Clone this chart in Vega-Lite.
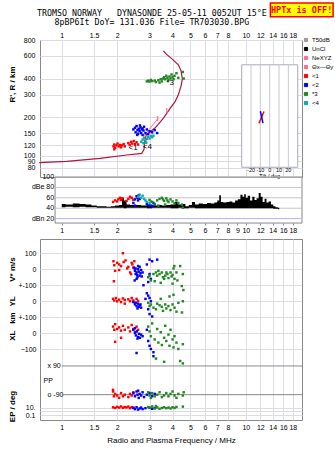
{
  "$schema": "https://vega.github.io/schema/vega-lite/v6.json",
  "background": "white",
  "padding": {"left": 7, "top": 1, "right": 0, "bottom": 0},
  "config": {
    "font": "Liberation Sans",
    "view": {"stroke": "#888888"},
    "axis": {"labelFont": "Liberation Sans", "labelFontSize": 7, "labelColor": "#000", "gridColor": "#dcdce4", "domain": false, "ticks": false, "labelOverlap": false, "titleFont": "Liberation Sans", "titleFontSize": 8, "titleFontWeight": "bold", "titleColor": "#000"},
    "title": {"font": "DejaVu Sans Mono", "fontSize": 8.3, "fontWeight": "normal", "color": "#000", "subtitleFont": "DejaVu Sans Mono", "subtitleFontSize": 8.3, "subtitleColor": "#000"}
  },
  "title": {"text": "TROMSO NORWAY\u00a0\u00a0\u00a0DYNASONDE 25-05-11 0052UT 15°E", "subtitle": "8pBP6It DoY= 131.036 File= TR703030.BPG", "anchor": "middle", "offset": -24.5, "dx": -19, "subtitlePadding": 1},
  "datasets": {
    "curve": [{"i":0,"f":0.755,"h":88},{"i":1,"f":1.065,"h":90},{"i":2,"f":1.616,"h":95},{"i":3,"f":2.256,"h":101},{"i":4,"f":2.72,"h":104},{"i":5,"f":2.80,"h":112},{"i":6,"f":2.82,"h":130},{"i":7,"f":2.88,"h":145},{"i":8,"f":3.21,"h":164},{"i":9,"f":3.57,"h":196},{"i":10,"f":3.88,"h":234},{"i":11,"f":4.13,"h":264},{"i":12,"f":4.30,"h":298},{"i":13,"f":4.45,"h":350},{"i":14,"f":4.52,"h":395},{"i":15,"f":4.45,"h":460},{"i":16,"f":4.30,"h":512},{"i":17,"f":4.0,"h":565},{"i":18,"f":3.7,"h":620},{"i":19,"f":3.57,"h":658}],
    "pink": [{"f":2.78,"h":141},{"f":3.35,"h":196}],
    "pinkI": [{"f":3.32,"h":192},{"f":3.72,"h":221}],
    "topLab": [{"f":2.44,"h":114,"t":"<1"},{"f":2.92,"h":116,"t":"<4"},{"f":3.88,"h":372,"t":"*3"}],
    "topPts": [
      {"f":1.91,"h":118,"m":"<1"},{"f":1.93,"h":122,"m":"<1"},{"f":1.95,"h":115,"m":"<1"},{"f":1.98,"h":120,"m":"<1"},{"f":2.01,"h":124,"m":"<1"},{"f":2.04,"h":118,"m":"<1"},{"f":2.07,"h":121,"m":"<1"},{"f":2.1,"h":116,"m":"<1"},{"f":2.13,"h":120,"m":"<1"},{"f":2.17,"h":123,"m":"<1"},{"f":2.2,"h":118,"m":"<1"},{"f":2.3,"h":125,"m":"<1"},{"f":2.34,"h":121,"m":"<1"},{"f":2.38,"h":128,"m":"<1"},{"f":2.42,"h":124,"m":"<1"},{"f":2.46,"h":130,"m":"<1"},{"f":2.5,"h":123,"m":"<1"},{"f":2.55,"h":127,"m":"<1"},{"f":2.6,"h":122,"m":"<1"},{"f":1.93,"h":112,"m":"<1"},
      {"f":2.45,"h":160,"m":"<2"},{"f":2.5,"h":165,"m":"<2"},{"f":2.52,"h":152,"m":"<2"},{"f":2.55,"h":170,"m":"<2"},{"f":2.58,"h":158,"m":"<2"},{"f":2.6,"h":148,"m":"<2"},{"f":2.62,"h":162,"m":"<2"},{"f":2.65,"h":155,"m":"<2"},{"f":2.68,"h":166,"m":"<2"},{"f":2.7,"h":150,"m":"<2"},{"f":2.72,"h":160,"m":"<2"},{"f":2.75,"h":145,"m":"<2"},{"f":2.78,"h":157,"m":"<2"},{"f":2.8,"h":168,"m":"<2"},{"f":2.85,"h":150,"m":"<2"},{"f":2.9,"h":160,"m":"<2"},{"f":2.95,"h":147,"m":"<2"},{"f":3.0,"h":155,"m":"<2"},{"f":3.1,"h":152,"m":"<2"},{"f":3.2,"h":158,"m":"<2"},{"f":3.3,"h":150,"m":"<2"},{"f":2.57,"h":145,"m":"<2"},{"f":2.66,"h":172,"m":"<2"},{"f":2.75,"h":163,"m":"<2"},
      {"f":2.7,"h":128,"m":"<4"},{"f":2.75,"h":133,"m":"<4"},{"f":2.8,"h":138,"m":"<4"},{"f":2.85,"h":130,"m":"<4"},{"f":2.9,"h":135,"m":"<4"},{"f":2.95,"h":140,"m":"<4"},{"f":3.0,"h":136,"m":"<4"},{"f":3.05,"h":142,"m":"<4"},{"f":3.1,"h":139,"m":"<4"},{"f":2.78,"h":125,"m":"<4"},{"f":2.88,"h":126,"m":"<4"},{"f":3.15,"h":143,"m":"<4"},
      {"f":2.9,"h":380,"m":"*3"},{"f":2.95,"h":385,"m":"*3"},{"f":3.0,"h":378,"m":"*3"},{"f":3.05,"h":390,"m":"*3"},{"f":3.1,"h":382,"m":"*3"},{"f":3.2,"h":385,"m":"*3"},{"f":3.35,"h":388,"m":"*3"},{"f":3.45,"h":395,"m":"*3"},{"f":3.5,"h":380,"m":"*3"},{"f":3.55,"h":400,"m":"*3"},{"f":3.6,"h":410,"m":"*3"},{"f":3.65,"h":395,"m":"*3"},{"f":3.7,"h":420,"m":"*3"},{"f":3.75,"h":405,"m":"*3"},{"f":3.8,"h":390,"m":"*3"},{"f":3.85,"h":415,"m":"*3"},{"f":3.9,"h":400,"m":"*3"},{"f":3.95,"h":430,"m":"*3"},{"f":4.0,"h":410,"m":"*3"},{"f":4.05,"h":395,"m":"*3"},{"f":4.1,"h":420,"m":"*3"},{"f":4.2,"h":440,"m":"*3"},{"f":4.3,"h":405,"m":"*3"},{"f":4.55,"h":450,"m":"*3"},{"f":4.6,"h":400,"m":"*3"},{"f":3.25,"h":375,"m":"*3"},{"f":3.4,"h":372,"m":"*3"}
    ],
    "tiltGrid": [{"t":-20},{"t":-10},{"t":0},{"t":10},{"t":20}],
    "tiltLab": [{"t":-20,"s":"-20"},{"t":-10,"s":"-10"},{"t":0,"s":"0"},{"t":10,"s":"10"},{"t":20,"s":"20"}],
    "tiltX": [{"m":"<1","t":-11.5,"h":179,"i":0},{"m":"<1","t":-6.1,"h":221,"i":1},{"m":"<2","t":-10.0,"h":222,"i":0},{"m":"<2","t":-7.2,"h":179,"i":1}],
    "dbLines": [{"d":100},{"d":80},{"d":60},{"d":40}],
    "dbLab": [{"d":100,"s":"100"},{"d":80,"s":"dBe 80"},{"d":60,"s":"60"},{"d":40,"s":"40"},{"d":20,"s":"dBn 20"}],
    "noise": [
      {"f":1.0,"lo":42,"hi":48},{"f":1.1,"lo":43,"hi":47},{"f":1.2,"lo":42,"hi":49},{"f":1.3,"lo":43,"hi":48},{"f":1.4,"lo":42,"hi":47},{"f":1.5,"lo":42,"hi":45},{"f":1.6,"lo":41,"hi":44},{"f":1.7,"lo":41,"hi":44},{"f":1.8,"lo":41,"hi":43},{"f":1.9,"lo":41,"hi":44},{"f":2.0,"lo":41,"hi":45},{"f":2.1,"lo":41,"hi":46},{"f":2.15,"lo":41,"hi":60},{"f":2.2,"lo":40,"hi":55},{"f":2.3,"lo":41,"hi":47},{"f":2.4,"lo":41,"hi":46},{"f":2.6,"lo":41,"hi":46},{"f":2.8,"lo":41,"hi":45},{"f":3.0,"lo":40,"hi":47},{"f":3.2,"lo":41,"hi":45},{"f":3.4,"lo":41,"hi":46},{"f":3.6,"lo":41,"hi":45},{"f":3.8,"lo":41,"hi":46},{"f":4.0,"lo":40,"hi":47},{"f":4.2,"lo":40,"hi":52},{"f":4.4,"lo":41,"hi":47},{"f":4.6,"lo":40,"hi":48},{"f":4.8,"lo":40,"hi":44},{"f":5.0,"lo":41,"hi":46},{"f":5.2,"lo":41,"hi":52},{"f":5.4,"lo":40,"hi":47},{"f":5.7,"lo":40,"hi":49},{"f":6.0,"lo":40,"hi":48},{"f":6.3,"lo":40,"hi":50},{"f":6.6,"lo":40,"hi":49},{"f":6.9,"lo":40,"hi":51},{"f":7.1,"lo":40,"hi":55},{"f":7.25,"lo":40,"hi":65},{"f":7.4,"lo":40,"hi":52},{"f":7.7,"lo":40,"hi":51},{"f":8.0,"lo":40,"hi":52},{"f":8.3,"lo":40,"hi":53},{"f":8.6,"lo":40,"hi":51},{"f":8.9,"lo":40,"hi":55},{"f":9.2,"lo":40,"hi":57},{"f":9.5,"lo":40,"hi":66},{"f":9.7,"lo":40,"hi":62},{"f":9.9,"lo":40,"hi":67},{"f":10.1,"lo":40,"hi":60},{"f":10.4,"lo":40,"hi":64},{"f":10.7,"lo":40,"hi":55},{"f":11.0,"lo":40,"hi":62},{"f":11.3,"lo":40,"hi":56},{"f":11.6,"lo":40,"hi":59},{"f":11.9,"lo":40,"hi":69},{"f":12.2,"lo":40,"hi":62},{"f":12.5,"lo":40,"hi":52},{"f":12.8,"lo":40,"hi":58},{"f":13.1,"lo":40,"hi":51},{"f":13.5,"lo":40,"hi":53},{"f":13.9,"lo":40,"hi":47},{"f":14.3,"lo":39,"hi":44},{"f":14.7,"lo":39,"hi":42},{"f":15.2,"lo":38,"hi":41}
    ],
    "dbPts": [
      {"f":1.9,"d":52,"m":"<1"},{"f":1.95,"d":55,"m":"<1"},{"f":2.0,"d":53,"m":"<1"},{"f":2.03,"d":57,"m":"<1"},{"f":2.07,"d":60,"m":"<1"},{"f":2.1,"d":56,"m":"<1"},{"f":2.13,"d":59,"m":"<1"},{"f":2.25,"d":54,"m":"<1"},{"f":2.3,"d":58,"m":"<1"},{"f":2.35,"d":62,"m":"<1"},{"f":2.4,"d":60,"m":"<1"},{"f":2.45,"d":56,"m":"<1"},
      {"f":2.45,"d":50,"m":"<2"},{"f":2.5,"d":57,"m":"<2"},{"f":2.55,"d":63,"m":"<2"},{"f":2.58,"d":60,"m":"<2"},{"f":2.6,"d":55,"m":"<2"},{"f":2.62,"d":65,"m":"<2"},{"f":2.65,"d":58,"m":"<2"},{"f":2.5,"d":45,"m":"<2"},{"f":2.9,"d":48,"m":"<2"},{"f":3.0,"d":45,"m":"<2"},{"f":3.1,"d":44,"m":"<2"},{"f":3.2,"d":47,"m":"<2"},{"f":3.15,"d":50,"m":"<2"},
      {"f":2.6,"d":62,"m":"<4"},{"f":2.65,"d":66,"m":"<4"},{"f":2.7,"d":60,"m":"<4"},{"f":2.75,"d":64,"m":"<4"},{"f":2.8,"d":58,"m":"<4"},{"f":2.85,"d":55,"m":"<4"},{"f":2.9,"d":52,"m":"<4"},{"f":3.0,"d":50,"m":"<4"},{"f":3.05,"d":53,"m":"<4"},
      {"f":3.0,"d":56,"m":"*3"},{"f":3.1,"d":52,"m":"*3"},{"f":3.2,"d":48,"m":"*3"},{"f":3.3,"d":55,"m":"*3"},{"f":3.4,"d":58,"m":"*3"},{"f":3.5,"d":60,"m":"*3"},{"f":3.55,"d":57,"m":"*3"},{"f":3.6,"d":54,"m":"*3"},{"f":3.7,"d":59,"m":"*3"},{"f":3.75,"d":55,"m":"*3"},{"f":3.8,"d":52,"m":"*3"},{"f":3.9,"d":57,"m":"*3"},{"f":4.0,"d":53,"m":"*3"},{"f":4.1,"d":49,"m":"*3"},{"f":4.2,"d":55,"m":"*3"},{"f":4.3,"d":50,"m":"*3"},{"f":3.35,"d":45,"m":"*3"},{"f":3.65,"d":47,"m":"*3"},{"f":4.5,"d":47,"m":"*3"},{"f":4.55,"d":41,"m":"*3"}
    ],
    "vs": [
      {"f":1.91,"v":50,"m":"<1"},{"f":1.93,"v":25,"m":"<1"},{"f":1.95,"v":-10,"m":"<1"},{"f":1.92,"v":-75,"m":"<1"},{"f":2.0,"v":40,"m":"<1"},{"f":2.05,"v":30,"m":"<1"},{"f":2.1,"v":20,"m":"<1"},{"f":2.15,"v":100,"m":"<1"},{"f":2.17,"v":45,"m":"<1"},{"f":2.22,"v":55,"m":"<1"},{"f":2.3,"v":15,"m":"<1"},{"f":2.35,"v":-20,"m":"<1"},{"f":2.27,"v":5,"m":"<1"},{"f":2.4,"v":40,"m":"<1"},{"f":2.42,"v":30,"m":"<1"},{"f":2.45,"v":10,"m":"<1"},{"f":2.48,"v":50,"m":"<1"},{"f":2.5,"v":0,"m":"<1"},{"f":2.38,"v":-30,"m":"<1"},{"f":2.05,"v":-5,"m":"<1"},
      {"f":2.47,"v":10,"m":"<2"},{"f":2.5,"v":-10,"m":"<2"},{"f":2.52,"v":5,"m":"<2"},{"f":2.55,"v":-20,"m":"<2"},{"f":2.57,"v":-35,"m":"<2"},{"f":2.6,"v":0,"m":"<2"},{"f":2.62,"v":-15,"m":"<2"},{"f":2.65,"v":-40,"m":"<2"},{"f":2.58,"v":-50,"m":"<2"},{"f":2.52,"v":-30,"m":"<2"},{"f":2.68,"v":-25,"m":"<2"},{"f":2.7,"v":-5,"m":"<2"},{"f":2.72,"v":-45,"m":"<2"},{"f":2.55,"v":-60,"m":"<2"},{"f":2.49,"v":-70,"m":"<2"},{"f":2.75,"v":-20,"m":"<2"},{"f":3.0,"v":60,"m":"<2"},{"f":3.1,"v":50,"m":"<2"},{"f":3.3,"v":60,"m":"<2"},{"f":2.9,"v":30,"m":"<2"},{"f":3.0,"v":-30,"m":"<2"},{"f":3.05,"v":-60,"m":"<2"},{"f":2.95,"v":-80,"m":"<2"},{"f":2.78,"v":-100,"m":"<2"},{"f":2.6,"v":20,"m":"<2"},{"f":2.65,"v":15,"m":"<2"},
      {"f":2.95,"v":-50,"m":"*3"},{"f":3.0,"v":-40,"m":"*3"},{"f":3.05,"v":-70,"m":"*3"},{"f":3.15,"v":-30,"m":"*3"},{"f":3.25,"v":-20,"m":"*3"},{"f":3.3,"v":-40,"m":"*3"},{"f":3.35,"v":-10,"m":"*3"},{"f":3.4,"v":-30,"m":"*3"},{"f":3.5,"v":-20,"m":"*3"},{"f":3.55,"v":-50,"m":"*3"},{"f":3.6,"v":-60,"m":"*3"},{"f":3.65,"v":-40,"m":"*3"},{"f":3.7,"v":-20,"m":"*3"},{"f":3.75,"v":-30,"m":"*3"},{"f":3.8,"v":-55,"m":"*3"},{"f":3.9,"v":-20,"m":"*3"},{"f":3.95,"v":-45,"m":"*3"},{"f":4.0,"v":-35,"m":"*3"},{"f":4.05,"v":5,"m":"*3"},{"f":4.1,"v":-60,"m":"*3"},{"f":4.2,"v":-20,"m":"*3"},{"f":4.25,"v":-70,"m":"*3"},{"f":4.55,"v":-30,"m":"*3"},{"f":4.4,"v":20,"m":"*3"},{"f":3.2,"v":-75,"m":"*3"},{"f":3.45,"v":-85,"m":"*3"},{"f":4.09,"v":20,"m":"*3"},{"f":4.0,"v":-90,"m":"*3"}
    ],
    "yl": [
      {"f":1.9,"v":15,"m":"<1"},{"f":1.93,"v":5,"m":"<1"},{"f":1.97,"v":20,"m":"<1"},{"f":2.0,"v":0,"m":"<1"},{"f":2.05,"v":10,"m":"<1"},{"f":2.1,"v":-5,"m":"<1"},{"f":2.15,"v":18,"m":"<1"},{"f":2.2,"v":8,"m":"<1"},{"f":2.3,"v":12,"m":"<1"},{"f":2.35,"v":0,"m":"<1"},{"f":2.4,"v":20,"m":"<1"},{"f":2.45,"v":5,"m":"<1"},{"f":2.5,"v":-10,"m":"<1"},{"f":2.55,"v":15,"m":"<1"},{"f":2.6,"v":2,"m":"<1"},{"f":2.2,"v":-15,"m":"<1"},
      {"f":2.45,"v":-5,"m":"<2"},{"f":2.5,"v":-20,"m":"<2"},{"f":2.55,"v":-30,"m":"<2"},{"f":2.6,"v":-15,"m":"<2"},{"f":2.62,"v":-35,"m":"<2"},{"f":2.65,"v":-25,"m":"<2"},{"f":2.7,"v":-40,"m":"<2"},{"f":2.58,"v":-45,"m":"<2"},{"f":2.53,"v":-10,"m":"<2"},{"f":2.68,"v":-20,"m":"<2"},{"f":2.9,"v":50,"m":"<2"},{"f":2.95,"v":35,"m":"<2"},{"f":3.0,"v":20,"m":"<2"},{"f":3.05,"v":0,"m":"<2"},{"f":2.95,"v":-50,"m":"<2"},{"f":3.0,"v":-80,"m":"<2"},{"f":3.1,"v":-95,"m":"<2"},{"f":2.85,"v":15,"m":"<2"},
      {"f":2.95,"v":-10,"m":"*3"},{"f":3.0,"v":-30,"m":"*3"},{"f":3.05,"v":-20,"m":"*3"},{"f":3.15,"v":-40,"m":"*3"},{"f":3.25,"v":-50,"m":"*3"},{"f":3.3,"v":-15,"m":"*3"},{"f":3.4,"v":-25,"m":"*3"},{"f":3.5,"v":-35,"m":"*3"},{"f":3.55,"v":-60,"m":"*3"},{"f":3.65,"v":-20,"m":"*3"},{"f":3.7,"v":-45,"m":"*3"},{"f":3.8,"v":-30,"m":"*3"},{"f":3.9,"v":-55,"m":"*3"},{"f":4.0,"v":-20,"m":"*3"},{"f":4.1,"v":-40,"m":"*3"},{"f":4.2,"v":-65,"m":"*3"},{"f":4.3,"v":-10,"m":"*3"},{"f":4.55,"v":0,"m":"*3"},{"f":3.45,"v":15,"m":"*3"},{"f":3.85,"v":30,"m":"*3"},{"f":4.05,"v":40,"m":"*3"},{"f":4.5,"v":-70,"m":"*3"},{"f":4.58,"v":70,"m":"*3"},{"f":4.49,"v":95,"m":"*3"}
    ],
    "xl": [
      {"f":1.9,"v":40,"m":"<1"},{"f":1.93,"v":20,"m":"<1"},{"f":1.95,"v":55,"m":"<1"},{"f":2.0,"v":25,"m":"<1"},{"f":2.05,"v":35,"m":"<1"},{"f":2.1,"v":15,"m":"<1"},{"f":2.15,"v":45,"m":"<1"},{"f":2.2,"v":20,"m":"<1"},{"f":2.3,"v":35,"m":"<1"},{"f":2.35,"v":10,"m":"<1"},{"f":2.4,"v":50,"m":"<1"},{"f":2.45,"v":25,"m":"<1"},{"f":2.5,"v":5,"m":"<1"},{"f":2.55,"v":40,"m":"<1"},{"f":1.95,"v":-55,"m":"<1"},{"f":2.1,"v":-30,"m":"<1"},{"f":2.6,"v":20,"m":"<1"},
      {"f":2.45,"v":20,"m":"<2"},{"f":2.5,"v":0,"m":"<2"},{"f":2.53,"v":-15,"m":"<2"},{"f":2.56,"v":10,"m":"<2"},{"f":2.6,"v":-25,"m":"<2"},{"f":2.63,"v":-5,"m":"<2"},{"f":2.66,"v":-30,"m":"<2"},{"f":2.7,"v":-10,"m":"<2"},{"f":2.58,"v":-35,"m":"<2"},{"f":2.5,"v":30,"m":"<2"},{"f":2.75,"v":-20,"m":"<2"},{"f":2.9,"v":20,"m":"<2"},{"f":2.95,"v":-50,"m":"<2"},{"f":3.0,"v":-80,"m":"<2"},{"f":3.05,"v":-100,"m":"<2"},{"f":2.55,"v":-125,"m":"<2"},{"f":3.15,"v":-120,"m":"<2"},{"f":3.15,"v":-145,"m":"<2"},
      {"f":2.95,"v":40,"m":"*3"},{"f":3.0,"v":10,"m":"*3"},{"f":3.05,"v":-20,"m":"*3"},{"f":3.1,"v":60,"m":"*3"},{"f":3.2,"v":-40,"m":"*3"},{"f":3.3,"v":25,"m":"*3"},{"f":3.35,"v":-60,"m":"*3"},{"f":3.45,"v":5,"m":"*3"},{"f":3.5,"v":-75,"m":"*3"},{"f":3.6,"v":-30,"m":"*3"},{"f":3.65,"v":45,"m":"*3"},{"f":3.7,"v":-50,"m":"*3"},{"f":3.8,"v":-10,"m":"*3"},{"f":3.85,"v":-80,"m":"*3"},{"f":3.9,"v":20,"m":"*3"},{"f":4.0,"v":-40,"m":"*3"},{"f":4.05,"v":-90,"m":"*3"},{"f":4.1,"v":-20,"m":"*3"},{"f":4.2,"v":-60,"m":"*3"},{"f":4.3,"v":-100,"m":"*3"},{"f":4.55,"v":-70,"m":"*3"},{"f":3.25,"v":-160,"m":"*3"},{"f":3.6,"v":-180,"m":"*3"},{"f":4.4,"v":-175,"m":"*3"},{"f":4.55,"v":-190,"m":"*3"}
    ],
    "pp": [
      {"f":1.9,"v":-70,"m":"<1"},{"f":1.92,"v":-100,"m":"<1"},{"f":1.95,"v":-85,"m":"<1"},{"f":2.0,"v":-95,"m":"<1"},{"f":2.05,"v":-110,"m":"<1"},{"f":2.1,"v":-80,"m":"<1"},{"f":2.15,"v":-100,"m":"<1"},{"f":2.2,"v":-90,"m":"<1"},{"f":2.3,"v":-105,"m":"<1"},{"f":2.35,"v":-85,"m":"<1"},{"f":2.4,"v":-95,"m":"<1"},{"f":2.45,"v":-75,"m":"<1"},{"f":1.9,"v":-60,"m":"<1"},
      {"f":2.45,"v":-80,"m":"<2"},{"f":2.5,"v":-100,"m":"<2"},{"f":2.55,"v":-70,"m":"<2"},{"f":2.58,"v":-90,"m":"<2"},{"f":2.62,"v":-110,"m":"<2"},{"f":2.65,"v":-85,"m":"<2"},{"f":2.7,"v":-95,"m":"<2"},{"f":2.75,"v":-75,"m":"<2"},{"f":2.8,"v":-105,"m":"<2"},{"f":2.9,"v":-90,"m":"<2"},{"f":3.0,"v":-80,"m":"<2"},{"f":3.1,"v":-100,"m":"<2"},{"f":3.2,"v":-85,"m":"<2"},{"f":2.6,"v":-65,"m":"<2"},
      {"f":2.95,"v":-75,"m":"*3"},{"f":3.0,"v":-95,"m":"*3"},{"f":3.05,"v":-110,"m":"*3"},{"f":3.1,"v":-80,"m":"*3"},{"f":3.2,"v":-100,"m":"*3"},{"f":3.3,"v":-90,"m":"*3"},{"f":3.4,"v":-75,"m":"*3"},{"f":3.5,"v":-105,"m":"*3"},{"f":3.6,"v":-95,"m":"*3"},{"f":3.7,"v":-80,"m":"*3"},{"f":3.8,"v":-100,"m":"*3"},{"f":3.9,"v":-85,"m":"*3"},{"f":4.0,"v":-70,"m":"*3"},{"f":4.1,"v":-95,"m":"*3"},{"f":4.2,"v":-110,"m":"*3"},{"f":4.3,"v":-85,"m":"*3"},{"f":4.55,"v":-95,"m":"*3"},{"f":4.6,"v":-75,"m":"*3"}
    ],
    "ppLines": [{"v":90},{"v":-90}],
    "ep": [
      {"f":1.9,"v":12,"m":"<1"},{"f":1.95,"v":8,"m":"<1"},{"f":2.0,"v":15,"m":"<1"},{"f":2.05,"v":10,"m":"<1"},{"f":2.1,"v":20,"m":"<1"},{"f":2.15,"v":9,"m":"<1"},{"f":2.2,"v":14,"m":"<1"},{"f":2.25,"v":11,"m":"<1"},{"f":2.3,"v":18,"m":"<1"},{"f":2.35,"v":7,"m":"<1"},{"f":2.4,"v":13,"m":"<1"},{"f":2.45,"v":10,"m":"<1"},
      {"f":2.45,"v":8,"m":"<2"},{"f":2.5,"v":4,"m":"<2"},{"f":2.55,"v":12,"m":"<2"},{"f":2.6,"v":3,"m":"<2"},{"f":2.65,"v":6,"m":"<2"},{"f":2.7,"v":10,"m":"<2"},{"f":2.75,"v":4,"m":"<2"},{"f":2.85,"v":7,"m":"<2"},{"f":3.0,"v":9,"m":"<2"},{"f":3.1,"v":5,"m":"<2"},{"f":3.2,"v":8,"m":"<2"},
      {"f":2.95,"v":14,"m":"*3"},{"f":3.0,"v":9,"m":"*3"},{"f":3.1,"v":20,"m":"*3"},{"f":3.2,"v":6,"m":"*3"},{"f":3.3,"v":11,"m":"*3"},{"f":3.4,"v":5,"m":"*3"},{"f":3.5,"v":8,"m":"*3"},{"f":3.6,"v":13,"m":"*3"},{"f":3.7,"v":7,"m":"*3"},{"f":3.8,"v":10,"m":"*3"},{"f":3.9,"v":6,"m":"*3"},{"f":4.0,"v":12,"m":"*3"},{"f":4.1,"v":8,"m":"*3"},{"f":4.2,"v":15,"m":"*3"},{"f":4.55,"v":18,"m":"*3"},{"f":3.25,"v":25,"m":"*3"}
    ],
    "hptx": [{"s":"HPTx is OFF!"}]
  },
  "resolve": {"scale": {"color": "shared", "x": "independent", "y": "independent"}},
  "spacing": 0,
  "bounds": "flush",
  "vconcat": [
    {
      "width": 262,
      "height": 137,
      "resolve": {"scale": {"x": "independent"}},
      "layer": [
        {
          "data": {"name": "curve"},
          "mark": {"type": "line", "color": "#b4143c", "strokeWidth": 1.2},
          "encoding": {
            "x": {"field": "f", "type": "quantitative", "scale": {"type": "log", "domain": [0.762, 20.2], "nice": false}, "axis": {"orient": "top", "values": [1, 1.5, 2, 3, 4, 5, 6, 7, 8, 10, 12, 14, 16, 18], "format": "~g", "grid": true, "labelPadding": 2, "title": null}},
            "y": {"field": "h", "type": "quantitative", "scale": {"type": "log", "domain": [68, 800], "nice": false}, "axis": {"values": [80, 90, 100, 120, 150, 200, 300, 400, 600, 800], "format": "~g", "grid": true, "labelOverlap": false, "labelPadding": 5, "title": "R', R / km", "titleX": -28, "titleY": 44, "titleBaseline": "middle"}},
            "order": {"field": "i", "type": "quantitative"}
          }
        },
        {
          "data": {"name": "pink"},
          "mark": {"type": "line", "color": "#ff6a98", "strokeWidth": 1},
          "encoding": {"x": {"field": "f", "type": "quantitative", "scale": {"type": "log", "domain": [0.762, 20.2], "nice": false}, "axis": null}, "y": {"field": "h", "type": "quantitative"}}
        },
        {
          "data": {"name": "pinkI"},
          "mark": {"type": "text", "color": "#ff6a98", "fontSize": 8, "fontWeight": "bold", "text": "I"},
          "encoding": {"x": {"field": "f", "type": "quantitative", "scale": {"type": "log", "domain": [0.762, 20.2], "nice": false}, "axis": null}, "y": {"field": "h", "type": "quantitative"}}
        },
        {
          "data": {"name": "topPts"},
          "mark": {"type": "square", "size": 6, "opacity": 1},
          "encoding": {
            "x": {"field": "f", "type": "quantitative", "scale": {"type": "log", "domain": [0.762, 20.2], "nice": false}, "axis": null},
            "y": {"field": "h", "type": "quantitative"},
            "color": {"field": "m", "type": "nominal", "scale": {"domain": ["T50dB", "UnCl", "NeXYZ", "Θx—Θy", "<1", "<2", "*3", "<4"], "range": ["#9a9a9a", "#000000", "#ff6a98", "#ff6a98", "#ff0000", "#0000ff", "#228822", "#10a8a8"]},
              "legend": {"title": null, "orient": "none", "legendX": 263, "legendY": -3, "labelFontSize": 6, "labelFont": "Liberation Sans", "labelColor": "#000", "symbolSize": 10, "rowPadding": 1, "labelOffset": 3, "symbolStrokeWidth": 1,
                "encode": {"symbols": {"update": {"shape": {"signal": "datum.value === 'T50dB' || datum.value === 'Θx—Θy' ? 'stroke' : datum.value === 'NeXYZ' ? 'cross' : datum.value === 'UnCl' ? 'circle' : 'square'"}, "stroke": {"signal": "scale('color', datum.value)"}, "strokeWidth": {"value": 1}, "size": {"signal": "datum.value === 'UnCl' ? 2 : datum.value === 'NeXYZ' ? 12 : datum.value === 'T50dB' || datum.value === 'Θx—Θy' ? 20 : 10"}}}}}}
          }
        },
        {
          "data": {"name": "topLab"},
          "mark": {"type": "text", "fontSize": 8, "color": "#000", "font": "Liberation Sans"},
          "encoding": {"x": {"field": "f", "type": "quantitative", "scale": {"type": "log", "domain": [0.762, 20.2], "nice": false}, "axis": null}, "y": {"field": "h", "type": "quantitative"}, "text": {"field": "t"}}
        },
        {
          "data": {"name": "hptx"},
          "mark": {"type": "rect", "fill": "#ffff00", "stroke": "#ff0000", "strokeWidth": 1.5},
          "encoding": {"x": {"datum": 13.6, "type": "quantitative", "scale": {"type": "log", "domain": [0.762, 20.2], "nice": false}, "axis": null}, "x2": {"datum": 29.8}, "y": {"datum": 1560, "type": "quantitative"}, "y2": {"datum": 1213}}
        },
        {
          "data": {"name": "hptx"},
          "mark": {"type": "text", "color": "#ff0000", "font": "DejaVu Sans Mono", "fontSize": 8.5, "fontWeight": "bold"},
          "encoding": {"x": {"datum": 20.1, "type": "quantitative", "scale": {"type": "log", "domain": [0.762, 20.2], "nice": false}, "axis": null}, "y": {"datum": 1375, "type": "quantitative"}, "text": {"field": "s"}}
        },
        {
          "data": {"values": [{}]},
          "mark": {"type": "rect", "fill": "white", "stroke": "#aab", "strokeWidth": 1},
          "encoding": {"x": {"datum": -30, "type": "quantitative", "scale": {"domain": [-246, 34.6], "nice": false, "zero": false}, "axis": null}, "x2": {"datum": 30}, "y": {"datum": 81, "type": "quantitative"}, "y2": {"datum": 512}}
        },
        {
          "data": {"name": "tiltGrid"},
          "mark": {"type": "rule", "color": "#c8c8d4", "strokeWidth": 1},
          "encoding": {"x": {"field": "t", "type": "quantitative", "scale": {"domain": [-246, 34.6], "nice": false, "zero": false}, "axis": null}, "y": {"datum": 81, "type": "quantitative"}, "y2": {"datum": 512}}
        },
        {
          "data": {"name": "tiltX"},
          "mark": {"type": "line", "strokeWidth": 1.5},
          "encoding": {"x": {"field": "t", "type": "quantitative", "scale": {"domain": [-246, 34.6], "nice": false, "zero": false}, "axis": null}, "y": {"field": "h", "type": "quantitative"}, "detail": {"field": "m"}, "order": {"field": "i", "type": "quantitative"},
            "color": {"field": "m", "type": "nominal", "scale": {"domain": ["T50dB", "UnCl", "NeXYZ", "Θx—Θy", "<1", "<2", "*3", "<4"], "range": ["#9a9a9a", "#000000", "#ff6a98", "#ff6a98", "#ff0000", "#0000ff", "#228822", "#10a8a8"]}, "legend": null}}
        },
        {
          "data": {"name": "tiltLab"},
          "mark": {"type": "text", "fontSize": 5.5, "color": "#000", "font": "Liberation Sans"},
          "encoding": {"x": {"field": "t", "type": "quantitative", "scale": {"domain": [-246, 34.6], "nice": false, "zero": false}, "axis": null}, "y": {"datum": 77, "type": "quantitative"}, "text": {"field": "s"}}
        },
        {
          "data": {"values": [{"s": "Tilt / deg"}]},
          "mark": {"type": "text", "fontSize": 5.5, "color": "#000", "font": "Liberation Sans"},
          "encoding": {"x": {"datum": 0, "type": "quantitative", "scale": {"domain": [-246, 34.6], "nice": false, "zero": false}, "axis": null}, "y": {"datum": 69.2, "type": "quantitative"}, "text": {"field": "s"}}
        }
      ]
    },
    {
      "width": 262,
      "height": 62,
      "view": {"stroke": null},
      "layer": [
        {
          "data": {"values": [{}]},
          "mark": {"type": "rect", "fill": null, "stroke": "#888888", "strokeWidth": 1},
          "encoding": {
            "x": {"datum": 0.92, "type": "quantitative", "scale": {"type": "log", "domain": [0.762, 20.2], "nice": false}, "axis": {"orient": "bottom", "offset": -16, "values": [1, 1.5, 2, 3, 4, 5, 6, 7, 8, 9, 10, 12, 14, 16, 18], "format": "~g", "grid": false, "ticks": true, "tickSize": 2, "tickColor": "#888", "labelPadding": 1, "title": null}},
            "x2": {"datum": 20.2},
            "y": {"datum": 11.5, "type": "quantitative", "scale": {"domain": [-19.2, 100], "nice": false, "zero": false}, "axis": null},
            "y2": {"datum": 100}
          }
        },
        {
          "data": {"name": "dbLines"},
          "mark": {"type": "rule", "color": "#c4c4c4", "strokeWidth": 1},
          "encoding": {"x": {"datum": 0.92, "type": "quantitative"}, "x2": {"datum": 20.2}, "y": {"field": "d", "type": "quantitative", "axis": null}}
        },
        {
          "data": {"values": [{"d": 20}]},
          "mark": {"type": "rule", "color": "#b4b4ee", "strokeWidth": 1},
          "encoding": {"x": {"datum": 0.92, "type": "quantitative"}, "x2": {"datum": 20.2}, "y": {"field": "d", "type": "quantitative", "axis": null}}
        },
        {
          "data": {"name": "dbLab"},
          "mark": {"type": "text", "align": "right", "baseline": "middle", "fontSize": 7, "font": "Liberation Sans", "color": "#000", "dx": -1},
          "encoding": {"x": {"datum": 0.92, "type": "quantitative"}, "y": {"field": "d", "type": "quantitative", "axis": null}, "text": {"field": "s"}}
        },
        {
          "data": {"name": "noise"},
          "mark": {"type": "area", "color": "#000000", "interpolate": "step"},
          "encoding": {"x": {"field": "f", "type": "quantitative"}, "y": {"field": "hi", "type": "quantitative", "axis": null}, "y2": {"field": "lo"}}
        },
        {
          "data": {"name": "dbPts"},
          "mark": {"type": "square", "size": 6, "opacity": 1},
          "encoding": {"x": {"field": "f", "type": "quantitative"}, "y": {"field": "d", "type": "quantitative", "axis": null},
            "color": {"field": "m", "type": "nominal", "scale": {"domain": ["T50dB", "UnCl", "NeXYZ", "Θx—Θy", "<1", "<2", "*3", "<4"], "range": ["#9a9a9a", "#000000", "#ff6a98", "#ff6a98", "#ff0000", "#0000ff", "#228822", "#10a8a8"]}, "legend": null}}
        }
      ]
    },
    {
      "width": 262,
      "height": 181,
      "resolve": {"scale": {"y": "independent"}},
      "layer": [
        {
          "data": {"name": "vs"},
          "mark": {"type": "square", "size": 6, "opacity": 1},
          "encoding": {
            "x": {"field": "f", "type": "quantitative", "scale": {"type": "log", "domain": [0.762, 20.2], "nice": false}, "axis": {"orient": "bottom", "values": [1, 1.5, 2, 3, 4, 5, 6, 7, 8, 10, 12, 14, 16, 18], "format": "~g", "grid": true, "labelPadding": 3, "title": "Radio and Plasma Frequency / MHz", "titlePadding": 6, "titleFontWeight": "normal", "titleFontSize": 8}},
            "y": {"field": "v", "type": "quantitative", "scale": {"domain": [-942, 189], "nice": false, "zero": false}, "axis": {"orient": "left", "values": [100, 0, -100], "labelExpr": "datum.value == -100 ? '+-100' : datum.label", "grid": true, "labelPadding": 4, "title": "V* m/s", "titleX": -28, "titleY": 30, "titleBaseline": "middle"}},
            "color": {"field": "m", "type": "nominal", "scale": {"domain": ["T50dB", "UnCl", "NeXYZ", "Θx—Θy", "<1", "<2", "*3", "<4"], "range": ["#9a9a9a", "#000000", "#ff6a98", "#ff6a98", "#ff0000", "#0000ff", "#228822", "#10a8a8"]}, "legend": null}
          }
        },
        {
          "data": {"name": "yl"},
          "mark": {"type": "square", "size": 6, "opacity": 1},
          "encoding": {
            "x": {"field": "f", "type": "quantitative"},
            "y": {"field": "v", "type": "quantitative", "scale": {"domain": [-742, 389], "nice": false, "zero": false}, "axis": {"orient": "left", "values": [0, -100], "labelExpr": "datum.value == -100 ? '+-100' : datum.label", "grid": true, "labelPadding": 4, "title": "YL", "titleX": -28, "titleY": 62, "titleBaseline": "middle"}},
            "color": {"field": "m", "type": "nominal", "scale": {"domain": ["T50dB", "UnCl", "NeXYZ", "Θx—Θy", "<1", "<2", "*3", "<4"], "range": ["#9a9a9a", "#000000", "#ff6a98", "#ff6a98", "#ff0000", "#0000ff", "#228822", "#10a8a8"]}, "legend": null}
          }
        },
        {
          "data": {"name": "xl"},
          "mark": {"type": "square", "size": 6, "opacity": 1},
          "encoding": {
            "x": {"field": "f", "type": "quantitative"},
            "y": {"field": "v", "type": "quantitative", "scale": {"domain": [-543.75, 587.5], "nice": false, "zero": false}, "axis": {"orient": "left", "values": [0, -100], "grid": true, "labelPadding": 4, "title": "XL\u00a0\u00a0\u00a0km", "titleX": -28, "titleY": 87, "titleBaseline": "middle"}},
            "color": {"field": "m", "type": "nominal", "scale": {"domain": ["T50dB", "UnCl", "NeXYZ", "Θx—Θy", "<1", "<2", "*3", "<4"], "range": ["#9a9a9a", "#000000", "#ff6a98", "#ff6a98", "#ff0000", "#0000ff", "#228822", "#10a8a8"]}, "legend": null}
          }
        },
        {
          "data": {"name": "ppLines"},
          "mark": {"type": "rule", "color": "#888888", "strokeWidth": 1},
          "encoding": {
            "x": {"datum": 1.0, "type": "quantitative"}, "x2": {"datum": 20.2},
            "y": {"field": "v", "type": "quantitative", "scale": {"domain": [-248.7, 886], "nice": false, "zero": false}, "axis": {"orient": "left", "values": [90, -90], "labelExpr": "datum.value == 90 ? 'x 90' : 'o -90'", "grid": false, "labelAlign": "left", "labelPadding": -7, "title": "PP", "titleAngle": 0, "titleX": 3, "titleY": 141, "titleAlign": "left", "titleBaseline": "middle", "titleFontWeight": "normal", "titleFontSize": 7}}
          }
        },
        {
          "data": {"name": "pp"},
          "mark": {"type": "square", "size": 6, "opacity": 1},
          "encoding": {
            "x": {"field": "f", "type": "quantitative"},
            "y": {"field": "v", "type": "quantitative", "scale": {"domain": [-248.7, 886], "nice": false, "zero": false}, "axis": null},
            "color": {"field": "m", "type": "nominal", "scale": {"domain": ["T50dB", "UnCl", "NeXYZ", "Θx—Θy", "<1", "<2", "*3", "<4"], "range": ["#9a9a9a", "#000000", "#ff6a98", "#ff6a98", "#ff0000", "#0000ff", "#228822", "#10a8a8"]}, "legend": null}
          }
        },
        {
          "data": {"name": "ep"},
          "mark": {"type": "square", "size": 6, "opacity": 1},
          "encoding": {
            "x": {"field": "f", "type": "quantitative"},
            "y": {"field": "v", "type": "quantitative", "scale": {"type": "log", "domain": [0.0058, 1e45], "nice": false}, "axis": {"orient": "left", "values": [10, 1, 0.1], "labelExpr": "datum.value == 10 ? '10.' : datum.value == 1 ? '' : '0.1'", "grid": true, "labelPadding": 5, "title": "EP / deg", "titleX": -28, "titleY": 167, "titleBaseline": "middle"}},
            "color": {"field": "m", "type": "nominal", "scale": {"domain": ["T50dB", "UnCl", "NeXYZ", "Θx—Θy", "<1", "<2", "*3", "<4"], "range": ["#9a9a9a", "#000000", "#ff6a98", "#ff6a98", "#ff0000", "#0000ff", "#228822", "#10a8a8"]}, "legend": null}
          }
        }
      ]
    }
  ]
}
